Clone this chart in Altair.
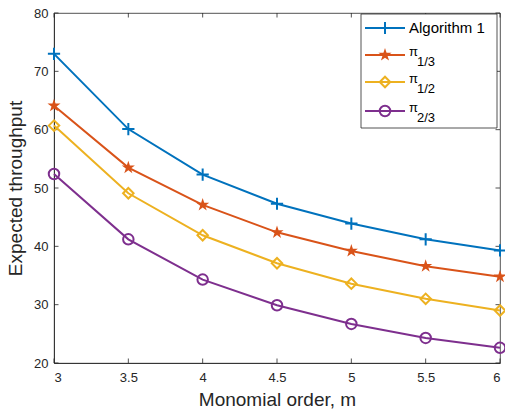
import altair as alt
import pandas as pd

# ---- data ----
m_values = [3, 3.5, 4, 4.5, 5, 5.5, 6]
alg1 = [73.0, 60.1, 52.3, 47.3, 43.9, 41.2, 39.3]
pi_13 = [64.1, 53.5, 47.1, 42.4, 39.2, 36.6, 34.8]
pi_12 = [60.7, 49.1, 41.9, 37.1, 33.6, 31.0, 29.0]
pi_23 = [52.4, 41.2, 34.3, 29.9, 26.7, 24.3, 22.6]

series_names = ["Algorithm 1", "pi_1/3", "pi_1/2", "pi_2/3"]
series_values = [alg1, pi_13, pi_12, pi_23]
colors = ["#0072BD", "#D95319", "#EDB120", "#7E2F8E"]

x_ticks = [3, 3.5, 4, 4.5, 5, 5.5, 6]
y_ticks = [20, 30, 40, 50, 60, 70, 80]

rows = []
for name, vals in zip(series_names, series_values):
    for m, v in zip(m_values, vals):
        rows.append({"m": m, "value": v, "series": name})
df = pd.DataFrame(rows)

W, H = 446, 350
AXC = "#262626"
FONT = "Liberation Sans"

PLUS = "M-1,0L1,0M0,-1L0,1"
STAR = ("M0,-1L0.2245,-0.309L0.951,-0.309L0.363,0.118L0.588,0.809L0,0.382"
        "L-0.588,0.809L-0.363,0.118L-0.951,-0.309L-0.2245,-0.309Z")
markers = [
    dict(shape=PLUS, filled=False, size=150),
    dict(shape=STAR, filled=True, size=190),
    dict(shape="diamond", filled=False, size=110),
    dict(shape="circle", filled=False, size=110),
]

xs = alt.Scale(domain=[3, 6], nice=False, zero=False)
ys = alt.Scale(domain=[20, 80], nice=False, zero=False)

x_enc = alt.X("m:Q", scale=xs, axis=alt.Axis(
    values=x_ticks, format="~g", title="Monomial order, m", ticks=False,
    grid=False, domainColor=AXC, domainWidth=0.8, labelFontSize=13,
    labelColor=AXC, labelPadding=8, titleFontSize=19, titleFontWeight="normal",
    titleColor=AXC, titlePadding=6, labelFont=FONT, titleFont=FONT))
y_enc = alt.Y("value:Q", scale=ys, axis=alt.Axis(
    values=y_ticks, title="Expected throughput", ticks=False, grid=False,
    domainColor=AXC, domainWidth=0.8, labelFontSize=13, labelColor=AXC,
    labelPadding=6, titleFontSize=19, titleFontWeight="normal",
    titleColor=AXC, titlePadding=8, labelFont=FONT, titleFont=FONT))

color_enc = alt.Color("series:N", scale=alt.Scale(domain=series_names, range=colors), legend=None)

layers = []
for name, col, mk in zip(series_names, colors, markers):
    sub = df[df.series == name]
    line = alt.Chart(sub).mark_line(strokeWidth=2, color=col, clip=False).encode(x=x_enc, y=y_enc)
    pts = alt.Chart(sub).mark_point(
        shape=mk["shape"], filled=mk["filled"], size=mk["size"], strokeWidth=2,
        color=col, opacity=1, clip=False).encode(x=alt.X("m:Q", scale=xs), y=alt.Y("value:Q", scale=ys))
    layers += [line, pts]

# inward ticks on all four sides
xt = pd.DataFrame({"t": x_ticks})
yt = pd.DataFrame({"t": y_ticks})
TL = 4.5
tick_layers = [
    alt.Chart(xt).mark_rule(color=AXC, strokeWidth=0.8).encode(
        x=alt.X("t:Q", scale=xs), y=alt.value(H), y2=alt.value(H - TL)),
    alt.Chart(xt).mark_rule(color=AXC, strokeWidth=0.8).encode(
        x=alt.X("t:Q", scale=xs), y=alt.value(0), y2=alt.value(TL)),
    alt.Chart(yt).mark_rule(color=AXC, strokeWidth=0.8).encode(
        y=alt.Y("t:Q", scale=ys), x=alt.value(0), x2=alt.value(TL)),
    alt.Chart(yt).mark_rule(color=AXC, strokeWidth=0.8).encode(
        y=alt.Y("t:Q", scale=ys), x=alt.value(W), x2=alt.value(W - TL)),
]

# manual legend (MATLAB style with subscripts)
one = pd.DataFrame({"a": [0]})
leg = [alt.Chart(one).mark_rect(fill="white", stroke=AXC, strokeWidth=0.8).encode(
    x=alt.value(307), x2=alt.value(443), y=alt.value(1), y2=alt.value(115))]
entry_y = [15, 42, 69, 98]
subs = ["", "1/3", "1/2", "2/3"]
for name, col, mk, ey, sb in zip(series_names, colors, markers, entry_y, subs):
    leg.append(alt.Chart(one).mark_rule(color=col, strokeWidth=2).encode(
        x=alt.value(311), x2=alt.value(351), y=alt.value(ey)))
    leg.append(alt.Chart(one).mark_point(
        shape=mk["shape"], filled=mk["filled"], size=mk["size"], strokeWidth=2,
        color=col, opacity=1).encode(x=alt.value(331), y=alt.value(ey)))
    if sb == "":
        leg.append(alt.Chart(one).mark_text(
            text=name, align="left", baseline="middle", fontSize=15, font=FONT, color="black").encode(
            x=alt.value(355), y=alt.value(ey)))
    else:
        leg.append(alt.Chart(one).mark_text(
            text="π", align="left", baseline="middle", fontSize=13, font=FONT, color="black").encode(
            x=alt.value(355), y=alt.value(ey - 3)))
        leg.append(alt.Chart(one).mark_text(
            text=sb, align="left", baseline="middle", fontSize=13, font=FONT, color="black").encode(
            x=alt.value(363), y=alt.value(ey + 7)))

chart = alt.layer(*tick_layers, *layers, *leg).properties(
    width=W, height=H,
    autosize=alt.AutoSizeParams(type="none"),
    padding={"left": 54, "top": 13, "right": 5, "bottom": 51},
    background="white",
).configure_view(stroke=AXC, strokeWidth=0.8)

chart.save("out.html", embed_options={"renderer": "svg", "actions": False})
